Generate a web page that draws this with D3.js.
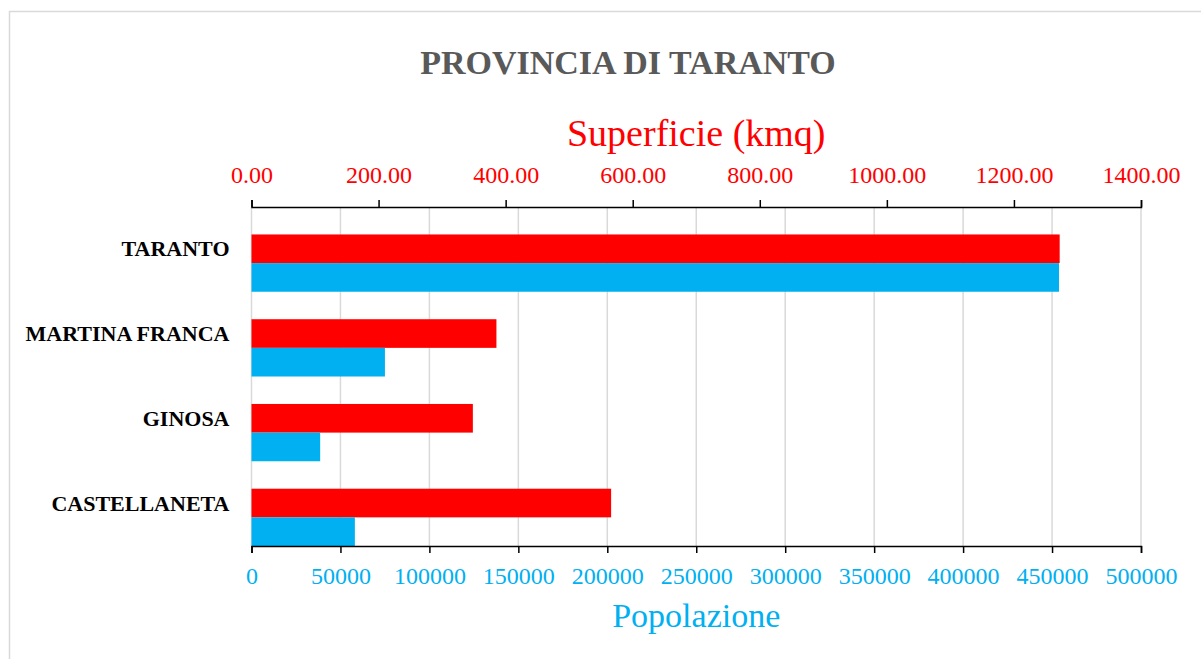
<!DOCTYPE html>
<html>
<head>
<meta charset="utf-8">
<script src="https://cdn.jsdelivr.net/npm/d3@7"></script>
<style>
  body { margin: 0; background: #fff; }
  svg { display: block; font-family: 'Liberation Serif', 'DejaVu Serif', serif; }
</style>
</head>
<body>
<svg id="chart"></svg>
<script>
// data
const comuni = ['TARANTO', 'MARTINA FRANCA', 'GINOSA', 'CASTELLANETA'];
const superficie = [1272, 385.5, 348.4, 566];
const popolazione = [453900, 75000, 38600, 58100];
const superficieTicks = [0, 200, 400, 600, 800, 1000, 1200, 1400];
const popolazioneTicks = [0, 50000, 100000, 150000, 200000, 250000, 300000, 350000, 400000, 450000, 500000];

const fullWidth = 1201;
const fullHeight = 659;
const red = '#ff0000';
const blue = '#00b0f0';

const svg = d3.select('#chart')
    .attr('width', fullWidth)
    .attr('height', fullHeight);

// chart frame
svg.append('rect')
    .attr('x', 9.5)
    .attr('y', 11.5)
    .attr('width', 1260)
    .attr('height', 700)
    .attr('fill', 'none')
    .attr('stroke', '#d9d9d9')
    .attr('stroke-width', 1.5);

const margin = { top: 207, right: 60, bottom: 113, left: 251.5 };
const width = 1141 - margin.left;
const height = fullHeight - margin.top - margin.bottom;

const xSup = d3.scaleLinear().domain([0, 1400]).range([0, width]);
const xPop = d3.scaleLinear().domain([0, 500000]).range([0, width]);
const y = d3.scaleBand().domain(comuni).range([0, height]).padding(0);

const g = svg.append('g')
    .attr('transform', `translate(${margin.left}, ${margin.top})`);

// gridlines
g.append('g')
  .selectAll('line')
  .data(popolazioneTicks)
  .join('line')
    .attr('x1', d => xPop(d))
    .attr('x2', d => xPop(d))
    .attr('y1', 0)
    .attr('y2', height)
    .attr('stroke', '#d9d9d9')
    .attr('stroke-width', 1.5);

// bars: bottom two thirds of each band
const bw = y.bandwidth() * 0.338;
const off = y.bandwidth() - 2 * bw;

g.append('g')
  .selectAll('rect')
  .data(comuni)
  .join('rect')
    .attr('x', 0)
    .attr('y', d => y(d) + off)
    .attr('width', (d, i) => xSup(superficie[i]))
    .attr('height', bw)
    .attr('fill', red);

g.append('g')
  .selectAll('rect')
  .data(comuni)
  .join('rect')
    .attr('x', 0)
    .attr('y', d => y(d) + off + bw)
    .attr('width', (d, i) => xPop(popolazione[i]))
    .attr('height', bw)
    .attr('fill', blue);

// top axis
const topAxis = g.append('g')
    .call(d3.axisTop(xSup)
      .tickValues(superficieTicks)
      .tickFormat(d3.format('.2f'))
      .tickSizeInner(7)
      .tickSizeOuter(7)
      .tickPadding(17));
topAxis.select('.domain').attr('stroke', '#000').attr('stroke-width', 1.5);
topAxis.selectAll('.tick line').attr('stroke', '#000').attr('stroke-width', 1.5);
topAxis.selectAll('.tick text')
    .attr('fill', red)
    .style('font-size', '24px')
    .style('font-family', "'Liberation Serif', serif");

// bottom axis
const bottomAxis = g.append('g')
    .attr('transform', `translate(0, ${height})`)
    .call(d3.axisBottom(xPop)
      .tickValues(popolazioneTicks)
      .tickFormat(d3.format('d'))
      .tickSizeInner(7)
      .tickSizeOuter(7)
      .tickPadding(14));
bottomAxis.select('.domain').attr('stroke', '#000').attr('stroke-width', 1.5);
bottomAxis.selectAll('.tick line').attr('stroke', '#000').attr('stroke-width', 1.5);
bottomAxis.selectAll('.tick text')
    .attr('fill', blue)
    .style('font-size', '24px')
    .style('font-family', "'Liberation Serif', serif");

// category labels, level with the red bars
g.append('g')
  .selectAll('text')
  .data(comuni)
  .join('text')
    .attr('x', -22)
    .attr('y', d => y(d) + off + bw / 2)
    .attr('dy', '0.35em')
    .attr('text-anchor', 'end')
    .style('font-size', '22px')
    .style('font-weight', 'bold')
    .attr('fill', '#000')
    .text(d => d);

// titles
svg.append('text')
    .attr('x', 628)
    .attr('y', 74)
    .attr('text-anchor', 'middle')
    .style('font-size', '34px')
    .style('font-weight', 'bold')
    .attr('fill', '#595959')
    .text('PROVINCIA DI TARANTO');

svg.append('text')
    .attr('x', margin.left + width / 2)
    .attr('y', 146)
    .attr('text-anchor', 'middle')
    .style('font-size', '38px')
    .attr('fill', red)
    .text('Superficie (kmq)');

svg.append('text')
    .attr('x', margin.left + width / 2)
    .attr('y', 627)
    .attr('text-anchor', 'middle')
    .style('font-size', '34px')
    .attr('fill', blue)
    .text('Popolazione');
</script>
</body>
</html>
